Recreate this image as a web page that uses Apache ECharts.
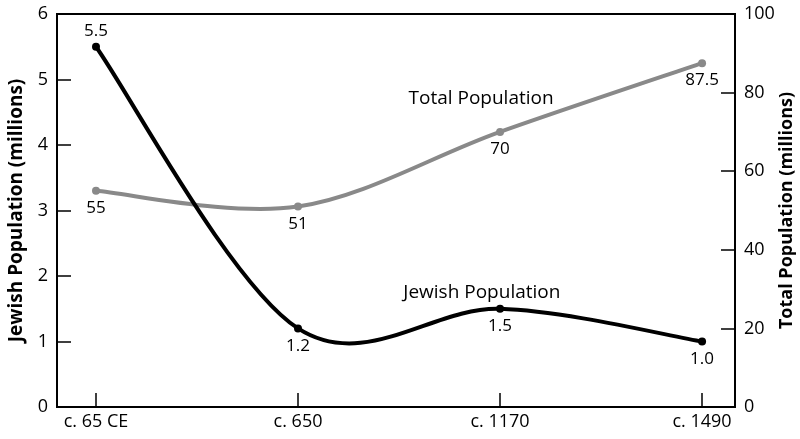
<!DOCTYPE html>
<html>
<head>
<meta charset="utf-8">
<script src="https://cdn.jsdelivr.net/npm/echarts@6/dist/echarts.min.js"></script>
<style>
  html, body { margin: 0; padding: 0; background: #fff; }
  #chart { width: 800px; height: 439px; }
</style>
</head>
<body>
<div id="chart"></div>
<script>
const categories = ['c. 65 CE', 'c. 650', 'c. 1170', 'c. 1490'];
const jewishPop = [5.5, 1.2, 1.5, 1.0];
const totalPop = [55, 51, 70, 87.5];
const jewishLabels = ['5.5', '1.2', '1.5', '1.0'];
const totalLabels = ['55', '51', '70', '87.5'];

const font = "'Open Sans', 'Noto Sans', sans-serif";
const black = '#000';
const gray = '#898989';

let chartDom = document.getElementById('chart');
let myChart = echarts.init(chartDom);

// catmull-rom curve through the points, one bezier per segment
const curveSeries = (values, axisIndex, color) => ({
    type: 'custom',
    coordinateSystem: 'cartesian2d',
    yAxisIndex: axisIndex,
    z: 2,
    silent: true,
    data: values.map((v, i) => [i, v]),
    renderItem: (params, api) => {
        const i = params.dataIndex;
        if (i >= values.length - 1) return null;
        const pts = values.map((v, k) => api.coord([k, v]));
        const p0 = pts[i - 1] || pts[i];
        const p1 = pts[i];
        const p2 = pts[i + 1];
        const p3 = pts[i + 2] || pts[i + 1];
        return {
            type: 'bezierCurve',
            shape: {
                x1: p1[0], y1: p1[1],
                x2: p2[0], y2: p2[1],
                cpx1: p1[0] + (p2[0] - p0[0]) / 6,
                cpy1: p1[1] + (p2[1] - p0[1]) / 6,
                cpx2: p2[0] - (p3[0] - p1[0]) / 6,
                cpy2: p2[1] - (p3[1] - p1[1]) / 6
            },
            style: { stroke: color, lineWidth: 4, fill: null, lineCap: 'round' }
        };
    }
});

const pointSeries = (name, values, labels, axisIndex, color, topIndex, legendCoord) => ({
    name: name,
    type: 'line',
    yAxisIndex: axisIndex,
    z: 3,
    data: values.map((v, i) => i === topIndex
        ? { value: [i, v], label: { position: 'top', distance: 3 } }
        : { value: [i, v] }),
    symbol: 'circle',
    symbolSize: 8,
    lineStyle: { width: 0, opacity: 0 },
    itemStyle: { color: color },
    label: {
        show: true,
        position: 'bottom',
        distance: 5,
        color: black, fontFamily: font, fontSize: 17,
        formatter: p => labels[p.dataIndex]
    },
    markPoint: {
        symbol: 'circle',
        symbolSize: 0,
        data: [{ coord: legendCoord }],
        label: {
            show: true, position: 'inside',
            formatter: name,
            color: black, fontFamily: font, fontSize: 19
        }
    }
});

let option = {
    animation: false,
    grid: {
        left: 57,
        right: 65,
        top: 14,
        bottom: 32,
        outerBoundsMode: 'none',
        show: true,
        borderColor: black,
        borderWidth: 2
    },
    xAxis: {
        type: 'value',
        min: -0.193,
        max: 3.163,
        interval: 1,
        splitLine: { show: false },
        axisLine: { show: true, onZero: false, lineStyle: { color: black, width: 2 } },
        axisTick: {
            show: true, inside: true, length: 14,
            lineStyle: { color: black, width: 1.5 },
            customValues: [0, 1, 2, 3]
        },
        axisLabel: {
            customValues: [0, 1, 2, 3],
            formatter: v => categories[Math.round(v)] || '',
            color: black, fontFamily: font, fontSize: 18, margin: 6
        }
    },
    yAxis: [
        {
            type: 'value',
            min: 0, max: 6, interval: 1,
            position: 'left',
            name: 'Jewish Population (millions)',
            nameLocation: 'middle',
            nameRotate: 90,
            nameGap: 31,
            nameMoveOverlap: false,
            nameTextStyle: { color: black, fontFamily: font, fontSize: 19, fontWeight: 'bold' },
            splitLine: { show: false },
            axisLine: { show: true, onZero: false, lineStyle: { color: black, width: 2 } },
            axisTick: { show: true, inside: true, length: 14, lineStyle: { color: black, width: 1.5 } },
            axisLabel: { color: black, fontFamily: font, fontSize: 18, margin: 9 }
        },
        {
            type: 'value',
            min: 0, max: 100, interval: 20,
            position: 'right',
            name: 'Total Population (millions)',
            nameLocation: 'middle',
            nameRotate: 90,
            nameGap: 43,
            nameMoveOverlap: false,
            nameTextStyle: { color: black, fontFamily: font, fontSize: 18, fontWeight: 'bold' },
            splitLine: { show: false },
            axisLine: { show: true, onZero: false, lineStyle: { color: black, width: 2 } },
            axisTick: { show: true, inside: true, length: 14, lineStyle: { color: black, width: 1.5 } },
            axisLabel: { color: black, fontFamily: font, fontSize: 18, margin: 9 }
        }
    ],
    series: [
        curveSeries(totalPop, 1, gray),
        curveSeries(jewishPop, 0, black),
        pointSeries('Total Population', totalPop, totalLabels, 1, gray, -1, [1.906, 78.6]),
        pointSeries('Jewish Population', jewishPop, jewishLabels, 0, black, 0, [1.91, 1.74])
    ]
};

option && myChart.setOption(option);
</script>
</body>
</html>
